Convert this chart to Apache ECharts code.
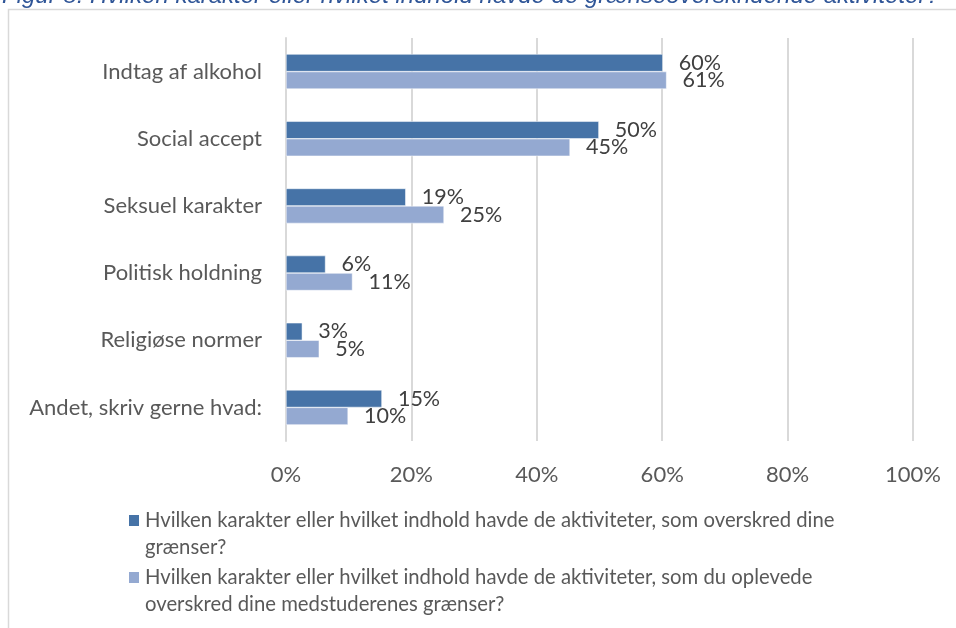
<!DOCTYPE html>
<html>
<head>
<meta charset="utf-8">
<script src="https://cdn.jsdelivr.net/npm/echarts@6/dist/echarts.min.js"></script>
<style>
  html, body { margin: 0; padding: 0; background: #fff; }
  #chart { width: 956px; height: 628px; }
</style>
</head>
<body>
<div id="chart"></div>
<script>
// kategorier (oppefra og ned)
let categories = ['Indtag af alkohol', 'Social accept', 'Seksuel karakter', 'Politisk holdning', 'Religiøse normer', 'Andet, skriv gerne hvad:'];
let seriesNames = [
    'Hvilken karakter eller hvilket indhold havde de aktiviteter, som overskred dine grænser?',
    'Hvilken karakter eller hvilket indhold havde de aktiviteter, som du oplevede overskred dine medstuderenes grænser?'
];
// procentværdier
let egneGraenser = [60.1, 49.9, 19.1, 6.3, 2.6, 15.3];
let andresGraenser = [60.7, 45.3, 25.2, 10.6, 5.3, 9.9];
let xTicks = [0, 20, 40, 60, 80, 100];

let fontFam = 'Lato, "Noto Sans", sans-serif';
let myChart = echarts.init(document.getElementById('chart'));

// linjeskift i legenden som i originalen (tom første linje så ikonet flugter med linje 1)
let legendText = {};
legendText[seriesNames[0]] = '\nHvilken karakter eller hvilket indhold havde de aktiviteter, som overskred dine\ngrænser?';
legendText[seriesNames[1]] = '\nHvilken karakter eller hvilket indhold havde de aktiviteter, som du oplevede\noverskred dine medstuderenes grænser?';

function legendOpt(name, top) {
    return {
        data: [name],
        left: 127,
        top: top,
        padding: 0,
        icon: 'rect',
        itemWidth: 12,
        itemHeight: 13,
        itemGap: 0,
        selectedMode: false,
        formatter: function (n) { return legendText[n]; },
        textStyle: {
            fontFamily: fontFam,
            fontSize: 20.3,
            color: '#595959',
            lineHeight: 27
        }
    };
}

let labelStyle = {
    show: true,
    position: 'right',
    distance: 16,
    fontFamily: fontFam,
    fontSize: 21.5,
    color: '#404040',
    formatter: function (p) { return Math.round(p.value) + '%'; }
};

myChart.setOption({
    animation: false,
    backgroundColor: '#fff',
    title: {
        text: 'Figur 8: Hvilken karakter eller hvilket indhold havde de grænseoverskridende aktiviteter?',
        left: -3,
        top: -21,
        textStyle: {
            fontFamily: '"Liberation Sans", Arial, sans-serif',
            fontStyle: 'italic',
            fontWeight: 'normal',
            fontSize: 24,
            color: '#2F5597'
        }
    },
    graphic: [{
        type: 'rect',
        shape: { x: 8.5, y: 9.5, width: 1000, height: 700 },
        style: { fill: 'none', stroke: '#D9D9D9', lineWidth: 1.5 },
        silent: true,
        z: -10
    }],
    legend: [legendOpt(seriesNames[0], 480), legendOpt(seriesNames[1], 537)],
    grid: { left: 286, right: 43, top: 38, bottom: 187 },
    xAxis: {
        type: 'value',
        min: 0,
        max: 100,
        interval: 20,
        axisLine: { show: false },
        axisTick: { show: false },
        splitLine: { lineStyle: { color: '#D9D9D9', width: 2 } },
        axisLabel: {
            margin: 23,
            fontFamily: fontFam,
            fontSize: 22,
            color: '#595959',
            formatter: function (v) { return xTicks.indexOf(v) >= 0 ? v + '%' : ''; }
        }
    },
    yAxis: {
        type: 'category',
        inverse: true,
        data: categories,
        axisLine: { show: true, lineStyle: { color: '#D9D9D9', width: 2 } },
        axisTick: { show: false },
        axisLabel: {
            margin: 24,
            fontFamily: fontFam,
            fontSize: 22,
            color: '#595959'
        }
    },
    series: [
        {
            name: seriesNames[0],
            type: 'bar',
            data: egneGraenser,
            barGap: '0%',
            barCategoryGap: '48%',
            itemStyle: { color: '#4673A7', borderColor: '#fff', borderWidth: 0.5 },
            label: labelStyle
        },
        {
            name: seriesNames[1],
            type: 'bar',
            data: andresGraenser,
            itemStyle: { color: '#94A9D1', borderColor: '#fff', borderWidth: 0.5 },
            label: labelStyle
        }
    ]
});
</script>
</body>
</html>
